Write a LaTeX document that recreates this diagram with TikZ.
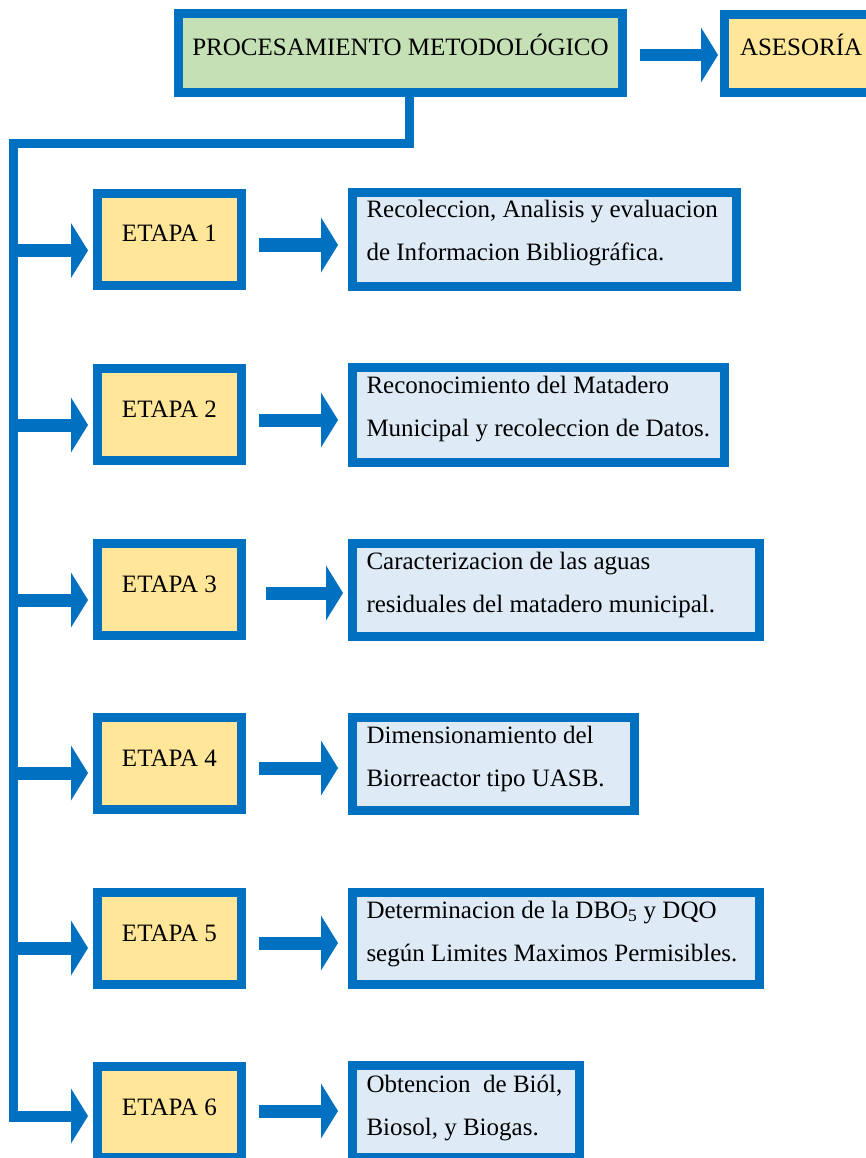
\documentclass[tikz,border=0pt]{standalone}
\usepackage{fontspec}
\setmainfont{Liberation Serif}
\usetikzlibrary{arrows.meta,calc}
\definecolor{frameblue}{HTML}{0070C0}
\definecolor{headgreen}{HTML}{C5E0B4}
\definecolor{stagegold}{HTML}{FFE699}
\definecolor{notesky}{HTML}{DEEBF7}
% two lines of text whose reference point is the first baseline
\newcommand\twolines[2]{\vtop{\hbox{#1}\hbox{#2}}}
\begin{document}
\begin{tikzpicture}[x=1pt,y=-1pt,
  boxframe/.style={draw=frameblue, line width=9pt, inner sep=0pt, outer sep=0pt, anchor=north west},
  headbox/.style={boxframe, fill=headgreen},
  advbox/.style={boxframe, fill=stagegold},
  stagebox/.style={boxframe, fill=stagegold, minimum width=144pt},
  notebox/.style={boxframe, fill=notesky},
  txt/.style={inner sep=0pt, outer sep=0pt, font=\fontsize{25}{43}\selectfont},
  trunkline/.style={draw=frameblue, line width=9pt, line join=miter},
  blockarrow/.style={draw=frameblue, line width=#1,
    -{Triangle[length=17pt,width=55pt,line width=0pt]}},
]
\useasboundingbox (0,0) rectangle (866,1158);
\clip (0,0) rectangle (866,1158);

% top row
\node[headbox, minimum width=444pt, minimum height=79pt] (hdr) at (178.5,13.5) {};
\node[advbox, minimum width=200pt, minimum height=78pt] (ase) at (724.5,14.5) {};
\node[txt, anchor=base] (hdrt) at ($(hdr.north)+(0,42.5)$) {PROCESAMIENTO METODOLÓGICO};
\node[txt, anchor=base west] (aset) at ($(ase.north west)+(15.5,41.5)$) {ASESORÍA};
\draw[blockarrow=12pt] ($(hdr.east)+(17.5,2)$) -- ($(ase.west)+(-6.5,1.5)$);

% stages
\node[stagebox, minimum height=92pt] (e1) at (97.5,193.5) {};
\node[stagebox, minimum height=92pt] (e2) at (97.5,368.5) {};
\node[stagebox, minimum height=92pt] (e3) at (97.5,543.5) {};
\node[stagebox, minimum height=92pt] (e4) at (97.5,717.5) {};
\node[stagebox, minimum height=92pt] (e5) at (97.5,892.5) {};
\node[stagebox, minimum height=91pt] (e6) at (97.5,1066.5) {};
\foreach \k in {1,...,6}{
  \node[txt, anchor=base] (e\k t) at ($(e\k.north)+(0,48.5)$) {ETAPA \k};
}

% descriptions
\node[notebox, minimum width=384pt, minimum height=94pt] (d1) at (352.5,192.5) {};
\node[notebox, minimum width=372pt, minimum height=95pt] (d2) at (352.5,367.5) {};
\node[notebox, minimum width=407pt, minimum height=93pt] (d3) at (352.5,543.5) {};
\node[notebox, minimum width=282pt, minimum height=93pt] (d4) at (352.5,717.5) {};
\node[notebox, minimum width=407pt, minimum height=92pt] (d5) at (352.5,892.5) {};
\node[notebox, minimum width=227pt, minimum height=92pt] (d6) at (352.5,1065.5) {};
\node[txt, anchor=base west] (d1t) at ($(d1.north west)+(14,25.5)$)
  {\twolines{Recoleccion, Analisis y evaluacion}{de Informacion Bibliográfica.}};
\node[txt, anchor=base west] (d2t) at ($(d2.north west)+(14,25.5)$)
  {\twolines{Reconocimiento del Matadero}{Municipal y recoleccion de Datos.}};
\node[txt, anchor=base west] (d3t) at ($(d3.north west)+(14,25.5)$)
  {\twolines{Caracterizacion de las aguas}{residuales del matadero municipal.}};
\node[txt, anchor=base west] (d4t) at ($(d4.north west)+(14,25.5)$)
  {\twolines{Dimensionamiento del}{Biorreactor tipo UASB.}};
\node[txt, anchor=base west] (d5t) at ($(d5.north west)+(14,25.5)$)
  {\twolines{Determinacion de la DBO\textsubscript{5} y DQO}{según Limites Maximos Permisibles.}};
\node[txt, anchor=base west] (d6t) at ($(d6.north west)+(14,26.5)$)
  {\twolines{Obtencion\ \ de Biól,}{Biosol, y Biogas.}};

% trunk from the header down the left side
\coordinate (drop) at (409,143.5);
\coordinate (corner) at (13.5,143.5);
\coordinate (foot) at (13.5,1116);
\draw[trunkline] (hdr.south -| drop) -- (drop) -- (corner) -- (foot);

% branches from the trunk into each stage
\coordinate (t1) at (9,250.5);
\coordinate (t2) at (9,425);
\coordinate (t3) at (9,600);
\coordinate (t4) at (9,773);
\coordinate (t5) at (9,948);
\coordinate (t6) at (9,1116);
\foreach \k in {1,...,5}{
  \draw[blockarrow=13pt] (t\k) -- ($(t\k -| e\k.west)+(-9.5,0)$);
}
\draw[blockarrow=11pt] (t6) -- ($(t6 -| e6.west)+(-9.5,0)$);

% arrows from each stage to its description
\coordinate (m1) at (0,245);
\coordinate (m2) at (0,420);
\coordinate (m3) at (0,593);
\coordinate (m4) at (0,768);
\coordinate (m5) at (0,943);
\coordinate (m6) at (0,1111);
\foreach \k in {1,2,4,5,6}{
  \draw[blockarrow=13pt] ($(m\k -| e\k.east)+(17.5,0)$) -- ($(m\k -| d\k.west)+(-14.5,0)$);
}
\draw[blockarrow=13pt] ($(m3 -| e3.east)+(24.5,0)$) -- ($(m3 -| d3.west)+(-9.5,0)$);
\end{tikzpicture}
\end{document}
